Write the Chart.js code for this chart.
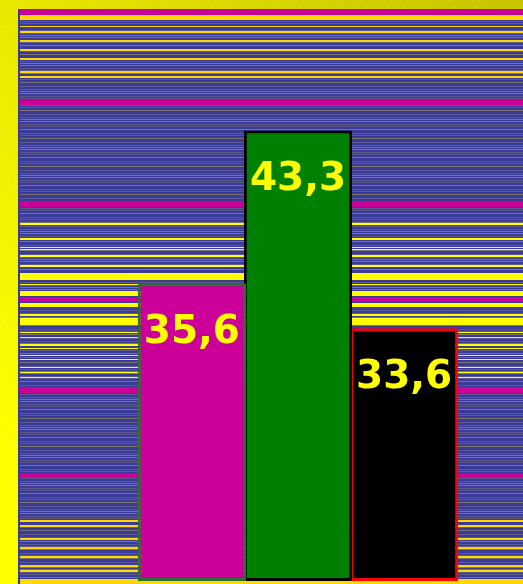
<!DOCTYPE html>
<html>
<head>
<meta charset="utf-8">
<script src="https://cdn.jsdelivr.net/npm/chart.js@4"></script>
<style>
  html, body { margin: 0; padding: 0; overflow: hidden; background: #ffff00; }
  canvas { display: block; }
</style>
</head>
<body>
<canvas id="chart" width="576" height="584"></canvas>
<script>
// values shown on the three bars
const categories = [''];
const seriesNames = ['Serie 1', 'Serie 2', 'Serie 3'];
const seriesValues = [35.6, 43.3, 33.6];
const axisMin = 24.3;
const axisMax = 50.6;

// striped backdrop: [from, to, colour] in canvas pixels
const bands = [
  [9, 15, '#cc0099'], [100, 105, '#cc0099'], [201, 207, '#cc0099'],
  [297, 302, '#cc0099'], [387, 393, '#cc0099'], [473, 478, '#cc0099'],
  [15, 20, '#ffd800'], [26, 27, '#ffd800'], [31, 33, '#ffd800'], [40, 42, '#ffd800'],
  [49, 51, '#ffd800'], [58, 60, '#ffd800'], [71, 73, '#ffd800'], [76, 78, '#ffd800'],
  [223, 225, '#ffff00'], [238, 240, '#ffff00'], [247, 248, '#ffff00'], [249, 250, '#ffff00'],
  [255, 257, '#ffff00'], [265, 267, '#ffff00'], [273, 280, '#ffff00'], [284, 285, '#ffff00'],
  [291, 296, '#ffff00'], [303, 307, '#ffff00'], [314, 316, '#ffff00'], [318, 325, '#ffff00'],
  [332, 333, '#ffff00'], [337, 338, '#ffff00'], [344, 346, '#ffff00'], [348, 349, '#ffff00'],
  [355, 356, '#ffff00'], [359, 360, '#ffff00'], [367, 368, '#ffff00'], [372, 373, '#ffff00'],
  [377, 378, '#ffff00'],
  [520, 522, '#ffd800'], [525, 527, '#ffd800'], [538, 540, '#ffd800'], [547, 549, '#ffd800'],
  [556, 558, '#ffd800'], [565, 567, '#ffd800'], [570, 572, '#ffd800'], [579, 584, '#ffd800']
];
// thin hairlines repeated through the blue field
const hairlines = [0, 3, 5, 8, 12, 14, 17, 21, 24, 26];

const backdrop = {
  id: 'backdrop',
  beforeDraw(chart) {
    const { ctx, width, height, chartArea } = chart;
    ctx.save();
    const g = ctx.createLinearGradient(width, 0, 0, height * 0.75);
    g.addColorStop(0, '#c4c000');
    g.addColorStop(1, '#ffff00');
    ctx.fillStyle = g;
    ctx.fillRect(0, 0, width, height);
    // faint diagonal sheen
    ctx.strokeStyle = 'rgba(255,255,255,0.22)';
    ctx.lineWidth = 1;
    ctx.setLineDash([3, 3]);
    for (let x = -height; x < width; x += 22) {
      ctx.beginPath();
      ctx.moveTo(x, 0);
      ctx.lineTo(x + height * 0.6, height);
      ctx.stroke();
    }
    ctx.setLineDash([]);

    const left = chartArea.left, top = chartArea.top;
    const w = width - left;
    ctx.fillStyle = '#3a3a98';
    ctx.fillRect(left - 2, top, w + 2, height - top);
    for (let y0 = top; y0 < height; y0 += 28) {
      hairlines.forEach((o, i) => {
        ctx.fillStyle = i % 3 === 0 ? 'rgba(150,140,100,0.75)' : 'rgba(110,105,140,0.65)';
        ctx.fillRect(left, y0 + o, w, 1);
      });
    }
    bands.forEach(([a, b, c]) => {
      ctx.fillStyle = c;
      ctx.fillRect(left, a, w, b - a);
    });
    ctx.restore();
  }
};

const valueLabels = {
  id: 'valueLabels',
  afterDatasetsDraw(chart) {
    const { ctx } = chart;
    ctx.save();
    ctx.font = 'bold 39px "DejaVu Sans"';
    ctx.fillStyle = '#ffff00';
    ctx.textAlign = 'center';
    ctx.textBaseline = 'alphabetic';
    chart.data.datasets.forEach((ds, i) => {
      chart.getDatasetMeta(i).data.forEach((bar, j) => {
        const txt = ds.data[j].toFixed(1).replace('.', ',');
        ctx.fillText(txt, bar.x, bar.y + 60);
      });
    });
    ctx.restore();
  }
};

new Chart(document.getElementById('chart'), {
  type: 'bar',
  data: {
    labels: categories,
    datasets: [
      { label: seriesNames[0], data: [seriesValues[0]], backgroundColor: '#cc0099', borderColor: '#2f6e2f', borderWidth: 3 },
      { label: seriesNames[1], data: [seriesValues[1]], backgroundColor: '#008000', borderColor: '#000000', borderWidth: 3 },
      { label: seriesNames[2], data: [seriesValues[2]], backgroundColor: '#000000', borderColor: '#ff0000', borderWidth: 3 }
    ]
  },
  options: {
    responsive: false,
    animation: false,
    layout: { padding: { left: 20, top: 9, right: 0, bottom: 3 } },
    datasets: {
      bar: { categoryPercentage: 0.5727, barPercentage: 1.02, borderSkipped: false }
    },
    plugins: {
      legend: { display: false },
      tooltip: { enabled: false }
    },
    scales: {
      x: { display: false },
      y: { type: 'logarithmic', display: false, min: axisMin, max: axisMax, bounds: 'data' }
    }
  },
  plugins: [backdrop, valueLabels]
});
</script>
</body>
</html>
